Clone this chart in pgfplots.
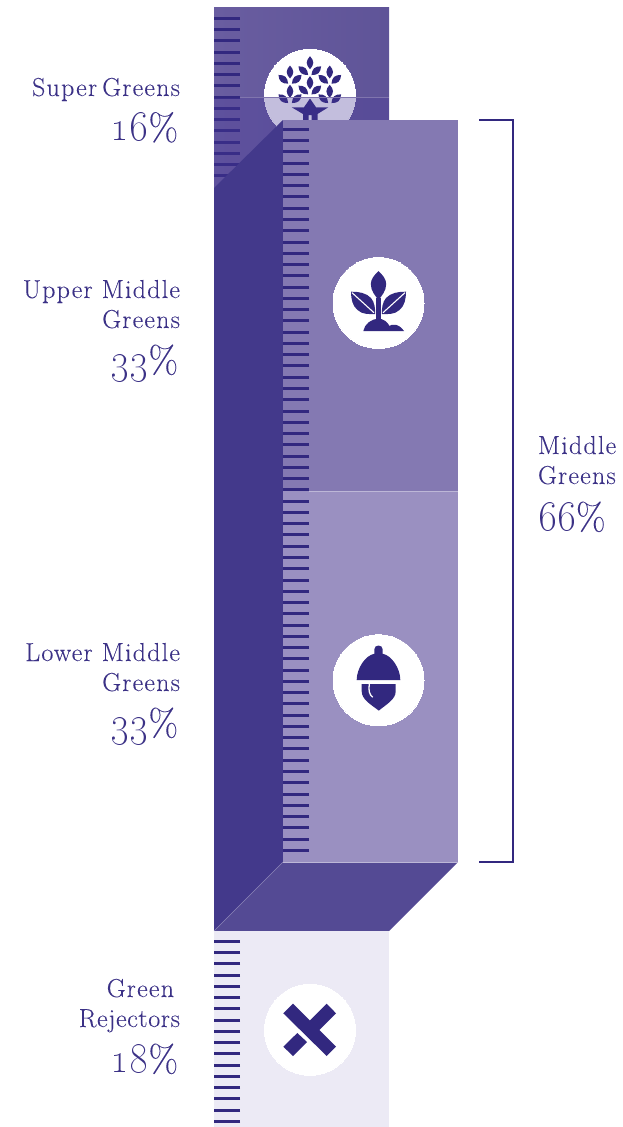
\documentclass[border=0pt]{standalone}
\usepackage{fontspec}
\usepackage{pgfplots}
\pgfplotsset{compat=1.18}
\newfontfamily\labfont{Latin Modern Roman}[LetterSpace=4.6,FakeBold=0.12]
\newfontfamily\labtight{Latin Modern Roman}[LetterSpace=2.4,FakeBold=0.12]
\newfontfamily\pctfont{Latin Modern Roman}[FakeBold=0.1]
\definecolor{ink}{HTML}{32287F}
\definecolor{txt}{HTML}{3B3186}
\definecolor{toptl}{HTML}{695DA0}
\definecolor{toptr}{HTML}{5F5498}
\definecolor{veil}{HTML}{4A3A98}
\definecolor{side}{HTML}{43398B}
\definecolor{frontA}{HTML}{8479B2}
\definecolor{frontB}{HTML}{9A90C1}
\definecolor{under}{HTML}{544A94}
\definecolor{pale}{HTML}{ECEAF5}
\newcommand\pM[2]{\pgfpathmoveto{\pgfqpoint{#1pt}{#2pt}}}
\newcommand\pL[2]{\pgfpathlineto{\pgfqpoint{#1pt}{#2pt}}}
\newcommand\pC[6]{\pgfpathcurveto{\pgfqpoint{#1pt}{#2pt}}{\pgfqpoint{#3pt}{#4pt}}{\pgfqpoint{#5pt}{#6pt}}}
\pgfdeclareplotmark{leaf}{%
  \pM{0}{6.5}\pC{2}{4.5}{3.3}{2}{3.3}{0}\pC{3.3}{-2}{2}{-4.5}{0}{-6.5}\pC{-2}{-4.5}{-3.3}{-2}{-3.3}{0}\pC{-3.3}{2}{-2}{4.5}{0}{6.5}%
  \pgfpathclose\pgfusepathqfill}
\pgfdeclareplotmark{sprout}{%
  \pM{0}{32}\pC{4}{28}{7.7}{24}{7.7}{19}\pC{7.7}{12}{3}{7}{0}{3}\pC{-3}{7}{-7.7}{12}{-7.7}{19}\pC{-7.7}{24}{-4}{28}{0}{32}\pgfpathclose
  \pM{-2.3}{5}\pL{2.3}{5}\pL{2.3}{-18}\pL{-2.3}{-18}\pgfpathclose
  \pM{-15.2}{-28}\pC{-14}{-21}{-7}{-15.7}{0}{-15.7}\pC{5}{-15.7}{9}{-19}{11}{-23}\pC{13}{-21}{20}{-20}{25.5}{-28}\pgfpathclose
  \pM{-27.5}{11.3}\pC{-20}{11.5}{-12}{10}{-7.5}{5}\pC{-4}{1}{-3}{-6}{-3.5}{-11}\pC{-8}{-11}{-16}{-12}{-21}{-7}\pC{-26}{-3}{-27.5}{4}{-27.5}{11.3}\pgfpathclose
  \pM{27.5}{11.3}\pC{20}{11.5}{12}{10}{7.5}{5}\pC{4}{1}{3}{-6}{3.5}{-11}\pC{8}{-11}{16}{-12}{21}{-7}\pC{26}{-3}{27.5}{4}{27.5}{11.3}\pgfpathclose
  \pgfusepathqfill
  \pgfsetstrokecolor{white}\pgfsetlinewidth{1.1pt}
  \pM{-26.5}{10.3}\pL{-4.5}{-9.7}\pM{26.5}{10.3}\pL{4.5}{-9.7}\pgfusepathqstroke}
\pgfdeclareplotmark{acorn}{%
  \pM{-21.8}{0.3}\pL{21.8}{0.3}\pC{21.8}{12}{13}{25}{4.2}{26.5}\pL{4.2}{31}\pC{4.2}{36}{-4.2}{36}{-4.2}{31}\pL{-4.2}{26.5}\pC{-13}{25}{-21.8}{12}{-21.8}{0.3}\pgfpathclose
  \pM{-16.8}{-3.7}\pL{17.2}{-3.7}\pL{17.2}{-11}\pC{17.2}{-19}{8}{-24}{0.3}{-30.3}\pC{-8}{-24}{-16.8}{-19}{-16.8}{-11}\pgfpathclose
  \pgfusepathqfill
  \pgfsetstrokecolor{white}\pgfsetlinewidth{1.3pt}
  \pM{-9.2}{-3.7}\pC{-10}{-10}{-9.5}{-14}{-5.8}{-17}\pgfusepathqstroke}
\pgfdeclareplotmark{cross}{%
  \pM{-26.7}{16.7}\pL{-17}{26.3}\pL{26}{-16.7}\pL{16.7}{-26}\pgfpathclose
  \pM{0}{9.7}\pL{16.7}{26.3}\pL{26}{16.7}\pL{9.3}{0}\pgfpathclose
  \pM{-12.7}{-3}\pL{-3}{-12}\pL{-17}{-26}\pL{-26.7}{-16.7}\pgfpathclose
  \pgfusepathqfill}
\pgfplotsset{
  disc/.style={only marks,forget plot,mark=*,mark size=45.5pt,mark options={draw=white,fill=white,line width=0pt}},
  tick/.style={only marks,forget plot,mark=-,mark size=13pt,mark options={draw=ink,line width=3pt}},
  icon/.style={only marks,forget plot,mark=#1,mark options={draw=ink,fill=ink}},
  lf/.style={only marks,forget plot,mark=leaf,mark options={draw=ink,fill=ink,rotate=#1}},
  face/.style={draw=none,fill=#1,forget plot},
}
\newcommand\lab[1]{\fontsize{26}{30}\labfont #1}
\newcommand\pct[1]{\scalebox{1.19}{\fontencoding{TS1}\fontfamily{lmr}\fontsize{44}{44}\selectfont\special{pdf:code 2 Tr 0.3 w}#1\special{pdf:code 0 Tr}}\fontsize{38}{38}\pctfont\%}
\begin{document}
\begin{tikzpicture}
\begin{axis}[width=623pt,height=1127pt,scale only axis,xmin=0,xmax=623,ymin=0,ymax=1127,y dir=reverse,hide axis,clip=false,clip mode=individual]
\path (axis cs:0,0) -- (axis cs:623,1127);
% Super Greens column
\addplot[forget plot,draw=none,left color=toptl,right color=toptr] coordinates {(214,7)(389,7)(389,190)(214,190)} -- cycle;
\addplot[disc] coordinates {(310,94.8)};
\addplot[lf=0] coordinates {(310,62.7)(290,72)(329.7,72)(310,82.7)(290,91.3)(329.7,91.3)};
\addplot[lf=48] coordinates {(303.3,70.7)(283.3,79.3)(323.3,79.3)(303.3,90)(283.3,98.7)(323.3,98.7)};
\addplot[lf=-48] coordinates {(316.3,70.7)(296.7,79.3)(336.3,79.3)(316.3,90)(296.7,98.7)(336.3,98.7)};
\addplot[face=ink] coordinates {(291.7,107.3)(304,107.3)(310,98.5)(316,107.3)(328.3,107.3)(317.5,114)(317.5,120)(311.5,120)(311.5,115)(308.5,115)(308.5,120)(303,120)(303,114)(291.7,107.3)} -- cycle;
\addplot[tick] coordinates {(227,18.3)(227,29.5)(227,40.8)(227,52)(227,63.3)(227,74.5)(227,85.8)(227,97)(227,108.3)(227,119.5)(227,130.8)(227,142)(227,153.3)(227,164.5)(227,175.8)};
\addplot[face=veil,fill opacity=0.33] coordinates {(214,97.5)(389,97.5)(389,190)(214,190)} -- cycle;
\addplot[forget plot,draw=toptl!85!white,line width=0.6pt] coordinates {(240,97.3)(389,97.3)};
% Middle Greens block
\addplot[face=side] coordinates {(214,188)(283,120)(283,862)(214,931)} -- cycle;
\addplot[face=frontA] coordinates {(283,120)(458,120)(458,491)(283,491)} -- cycle;
\addplot[face=frontB] coordinates {(283,491)(458,491)(458,862)(283,862)} -- cycle;
\addplot[face=under] coordinates {(283,862)(458,862)(389,931)(214,931)} -- cycle;
\addplot[forget plot,draw=frontB!65!white,line width=0.7pt] coordinates {(309,491)(458,491)};
\addplot[forget plot,draw=frontB!65!white,line width=0.6pt] coordinates {(283,862)(458,862)};
\addplot[forget plot,draw=under!70!white,line width=0.5pt] coordinates {(214,931)(283,862)};
\addplot[tick] coordinates {(296,129.3)(296,140.6)(296,151.8)(296,163.1)(296,174.4)(296,185.6)(296,196.9)(296,208.2)(296,219.4)(296,230.7)(296,242)(296,253.2)(296,264.5)(296,275.8)(296,287)(296,298.3)(296,309.6)(296,320.8)(296,332.1)(296,343.4)(296,354.6)(296,365.9)(296,377.2)(296,388.4)(296,399.7)(296,411)(296,422.2)(296,433.5)(296,444.8)(296,456)(296,467.3)(296,478.6)(296,489.8)(296,501.1)(296,512.4)(296,523.6)(296,534.9)(296,546.2)(296,557.4)(296,568.7)(296,580)(296,591.2)(296,602.5)(296,613.8)(296,625)(296,636.3)(296,647.6)(296,658.8)(296,670.1)(296,681.3)(296,692.6)(296,703.9)(296,715.1)(296,726.4)(296,737.7)(296,748.9)(296,760.2)(296,771.5)(296,782.7)(296,794)(296,805.3)(296,816.5)(296,827.8)(296,839.1)(296,850.3)};
\addplot[disc] coordinates {(378.5,303)};
\addplot[icon=sprout] coordinates {(378.5,303)};
\addplot[disc] coordinates {(378.5,680.3)};
\addplot[icon=acorn] coordinates {(378.5,680.3)};
% Green Rejectors column
\addplot[face=pale] coordinates {(214,931)(389,931)(389,1127)(214,1127)} -- cycle;
\addplot[tick] coordinates {(227,941.3)(227,952.5)(227,963.8)(227,975)(227,986.3)(227,997.5)(227,1008.8)(227,1020)(227,1031.3)(227,1042.5)(227,1053.8)(227,1065)(227,1076.3)(227,1087.5)(227,1098.8)(227,1110)(227,1121.3)};
\addplot[disc] coordinates {(310,1029.8)};
\addplot[icon=cross] coordinates {(310,1030)};
% Bracket
\addplot[forget plot,draw=ink,line width=2pt] coordinates {(479,120)(513,120)(513,862)(479,862)};
% Labels
\tikzset{every node/.style={text=txt,inner sep=0pt,outer sep=0pt}}
\node[anchor=base east] at (axis cs:180,96) {\lab{Super \kern-4pt Greens}};
\node[anchor=base east] at (axis cs:178,140.5) {\pct{16}};
\node[anchor=base east] at (axis cs:180,298) {\lab{Upper Middle}};
\node[anchor=base east] at (axis cs:180,328) {\lab{Greens}};
\node[anchor=base east] at (axis cs:178,373) {\pct{33}};
\node[anchor=base east] at (axis cs:180,661) {\lab{Lower Middle}};
\node[anchor=base east] at (axis cs:180,691) {\lab{Greens}};
\node[anchor=base east] at (axis cs:178,736) {\pct{33}};
\node[anchor=base east] at (axis cs:174,997) {\lab{Green}};
\node[anchor=base east] at (axis cs:180,1027) {\fontsize{26}{30}\labtight Rejectors};
\node[anchor=base east] at (axis cs:178,1072) {\pct{18}};
\node[anchor=base west] at (axis cs:538,454) {\lab{Middle}};
\node[anchor=base west] at (axis cs:538,484) {\lab{Greens}};
\node[anchor=base west] at (axis cs:538,530) {\pct{66}};
\end{axis}
\end{tikzpicture}
\end{document}
